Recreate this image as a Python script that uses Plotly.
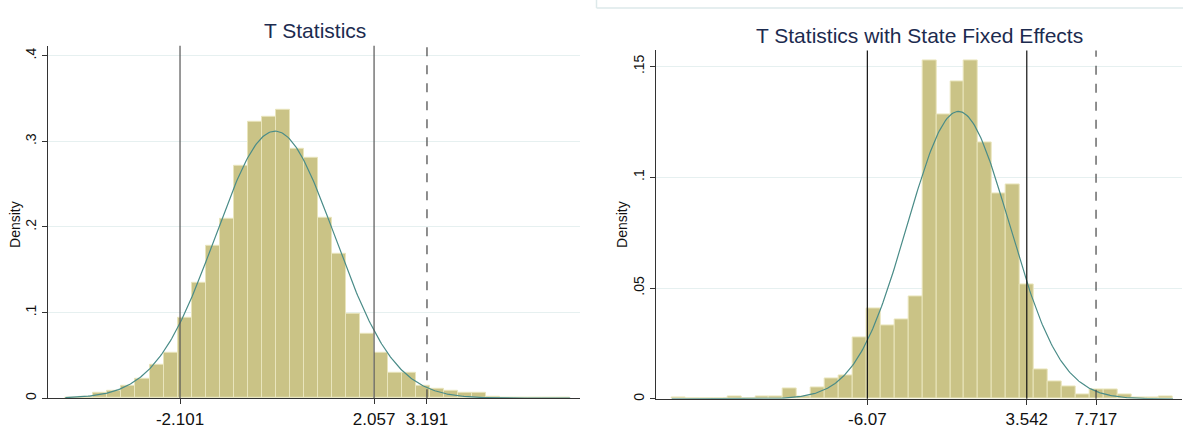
import numpy as np
import plotly.graph_objects as go

W, H = 1183, 437

# ---- Panel 1: T statistics ----
t_bin_start = -4.558
t_bin_width = 0.3005
t_density = [0.0008, 0.0015, 0.0058, 0.009, 0.0147, 0.023, 0.0395, 0.0535, 0.094,
             0.135, 0.1775, 0.209, 0.272, 0.323, 0.329, 0.337, 0.291, 0.281, 0.2105,
             0.1686, 0.0988, 0.0756, 0.0535, 0.0302, 0.0302, 0.0147, 0.0105, 0.009,
             0.0058, 0.0058, 0.002, 0.0008, 0, 0, 0.0008, 0.0008]
t_mean, t_sd = -0.064, 1.279
t_crit_solid = [-2.101, 2.057]
t_crit_dash = [3.191]
t_ticks = [-2.101, 2.057, 3.191]
t_tick_text = ["-2.101", "2.057", "3.191"]
t_yticks = [0, 0.1, 0.2, 0.3, 0.4]
t_ytick_text = ["0", ".1", ".2", ".3", ".4"]

# ---- Panel 2: T statistics with state fixed effects ----
fe_bin_start = -17.865
fe_bin_width = 0.8396
fe_density = [0.0006, 0, 0, 0, 0.0013, 0, 0.0009, 0.0013, 0.0045, 0.0009, 0.0051,
              0.0093, 0.0105, 0.0276, 0.041, 0.033, 0.0357, 0.0463, 0.1527, 0.1283,
              0.143, 0.1527, 0.1159, 0.0928, 0.0969, 0.0515, 0.0133, 0.0078, 0.0058,
              0.0018, 0.0044, 0.0044, 0.0018, 0.0006, 0.0006, 0.0013]
fe_mean, fe_sd = -0.58, 3.076
fe_crit_solid = [-6.07, 3.542]
fe_crit_dash = [7.717]
fe_ticks = [-6.07, 3.542, 7.717]
fe_tick_text = ["-6.07", "3.542", "7.717"]
fe_yticks = [0, 0.05, 0.1, 0.15]
fe_ytick_text = ["0", ".05", ".1", ".15"]

BAR_FILL = "#cac386"
BAR_EDGE = "#e9e5bc"
CURVE = "#4a8c88"
GRID = "#e6f0f0"
TITLE_COLOR = "#1c2b4f"
FONT = "Liberation Sans, Arial, sans-serif"


def px_to_x(p):
    return p / W


def px_to_y(p):
    return 1 - p / H


fig = go.Figure()


def add_panel(idx, start, width, dens, mean, sd):
    n = len(dens)
    centers = start + width * (np.arange(n) + 0.5)
    xa = "x" if idx == 1 else "x2"
    ya = "y" if idx == 1 else "y2"
    fig.add_trace(go.Bar(
        x=centers, y=dens, width=width,
        marker=dict(color=BAR_FILL, line=dict(color=BAR_EDGE, width=1)),
        xaxis=xa, yaxis=ya, showlegend=False, hoverinfo="skip"))
    xs = np.linspace(start, start + width * n, 400)
    ys = np.exp(-0.5 * ((xs - mean) / sd) ** 2) / (sd * np.sqrt(2 * np.pi))
    fig.add_trace(go.Scatter(
        x=xs, y=ys, mode="lines", line=dict(color=CURVE, width=1.2),
        xaxis=xa, yaxis=ya, showlegend=False, hoverinfo="skip"))


add_panel(1, t_bin_start, t_bin_width, t_density, t_mean, t_sd)
add_panel(2, fe_bin_start, fe_bin_width, fe_density, fe_mean, fe_sd)

shapes = []


def vlines(xref, yref, solid, dash, solid_color):
    for v in solid:
        shapes.append(dict(type="line", xref=xref, yref=yref + " domain",
                           x0=v, x1=v, y0=0, y1=1,
                           line=dict(color=solid_color, width=1.2)))
    for v in dash:
        shapes.append(dict(type="line", xref=xref, yref=yref + " domain",
                           x0=v, x1=v, y0=0, y1=1,
                           line=dict(color="#444444", width=1.2, dash="dash")))


vlines("x", "y", t_crit_solid, t_crit_dash, "#555555")
vlines("x2", "y2", fe_crit_solid, fe_crit_dash, "#111111")

# frame edge above the second panel
shapes.append(dict(type="line", xref="paper", yref="paper",
                   x0=px_to_x(596.5), x1=1, y0=px_to_y(8), y1=px_to_y(8),
                   line=dict(color="#dde9ea", width=1.5)))
shapes.append(dict(type="line", xref="paper", yref="paper",
                   x0=px_to_x(596.5), x1=px_to_x(596.5), y0=px_to_y(8), y1=1,
                   line=dict(color="#dde9ea", width=1.5)))

fig.update_layout(shapes=shapes)

axis_common = dict(showline=True, linecolor="#333333", linewidth=1.2, zeroline=False,
                   ticks="outside", ticklen=5, tickcolor="#333333", tickwidth=1,
                   tickfont=dict(family=FONT, size=17, color="#111111"), fixedrange=True)
yaxis_common = dict(showline=True, linecolor="#333333", linewidth=1.2, zeroline=False,
                    ticks="outside", ticklen=5, tickcolor="#333333", tickwidth=1,
                    tickangle=-90, showgrid=True, gridcolor=GRID, gridwidth=1,
                    tickfont=dict(family=FONT, size=14, color="#111111"), fixedrange=True)

fig.update_layout(
    width=W, height=H, margin=dict(l=0, r=0, t=0, b=0),
    paper_bgcolor="white", plot_bgcolor="white", bargap=0,
    font=dict(family=FONT),
    xaxis=dict(domain=[px_to_x(48), px_to_x(580)], range=[-4.93, 6.47],
               tickmode="array", tickvals=t_ticks, ticktext=t_tick_text,
               showgrid=False, anchor="y", **axis_common),
    yaxis=dict(domain=[px_to_y(400), px_to_y(46)], range=[0, 0.4116],
               tickmode="array", tickvals=t_yticks, ticktext=t_ytick_text,
               anchor="x", **yaxis_common),
    xaxis2=dict(domain=[px_to_x(655.7), px_to_x(1182)], range=[-18.83, 12.9],
                tickmode="array", tickvals=fe_ticks, ticktext=fe_tick_text,
                showgrid=False, anchor="y2", **axis_common),
    yaxis2=dict(domain=[px_to_y(400.7), px_to_y(50.7)], range=[0, 0.1572],
                tickmode="array", tickvals=fe_yticks, ticktext=fe_ytick_text,
                anchor="x2", **yaxis_common),
    annotations=[
        dict(text="T Statistics", xref="paper", yref="paper",
             x=px_to_x(315), y=px_to_y(31), showarrow=False,
             xanchor="center", yanchor="middle",
             font=dict(family=FONT, size=21, color=TITLE_COLOR)),
        dict(text="T Statistics with State Fixed Effects", xref="paper", yref="paper",
             x=px_to_x(919), y=px_to_y(36), showarrow=False,
             xanchor="center", yanchor="middle",
             font=dict(family=FONT, size=21, color=TITLE_COLOR)),
        dict(text="Density", xref="paper", yref="paper",
             x=px_to_x(15), y=px_to_y(226), showarrow=False, textangle=-90,
             xanchor="center", yanchor="middle",
             font=dict(family=FONT, size=14, color="#111111")),
        dict(text="Density", xref="paper", yref="paper",
             x=px_to_x(622), y=px_to_y(226), showarrow=False, textangle=-90,
             xanchor="center", yanchor="middle",
             font=dict(family=FONT, size=14, color="#111111")),
    ],
)

fig.write_html("out.html")
